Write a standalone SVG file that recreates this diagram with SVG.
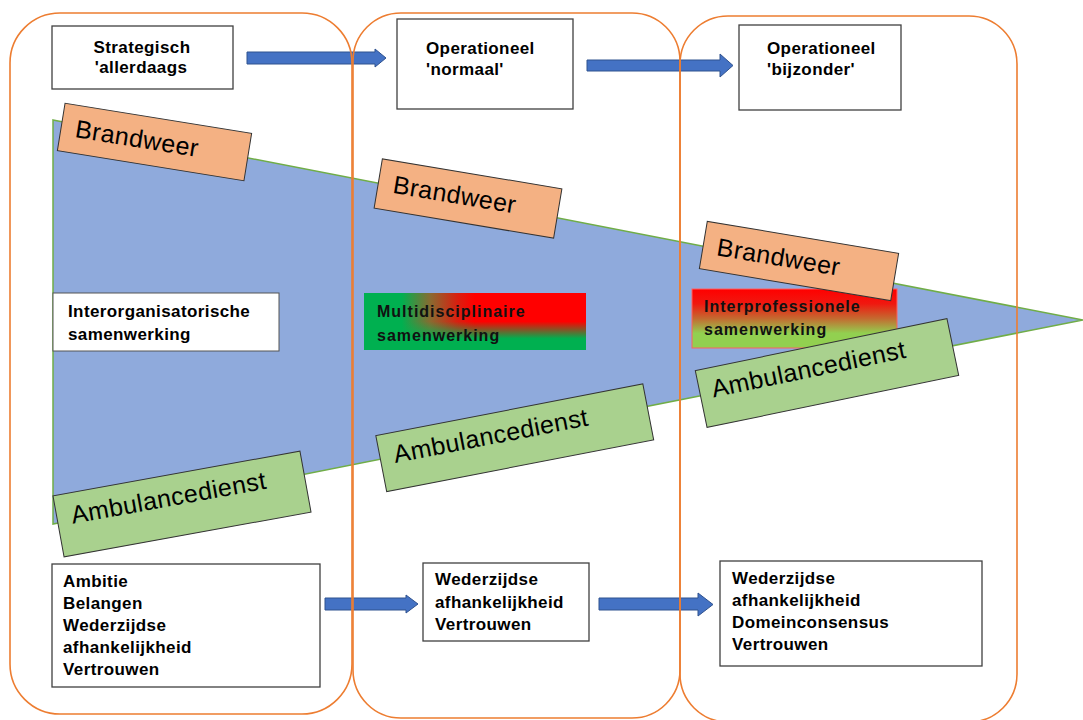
<svg xmlns="http://www.w3.org/2000/svg" width="1083" height="720" viewBox="0 0 1083 720">
<style>
.frame{fill:none;stroke:#ED7D31;stroke-width:1.6}
.box{fill:#fff;stroke:#404040;stroke-width:1.3}
.b{font-family:"Liberation Sans",Arial,sans-serif;font-weight:bold;font-size:17px;fill:#000;letter-spacing:0.4px}
.b2{font-family:"Liberation Sans",Arial,sans-serif;font-weight:bold;font-size:16px;fill:#111;letter-spacing:1px}
.lbl{font-family:"Liberation Sans",Arial,sans-serif;font-size:25px;fill:#000;letter-spacing:0.4px}
.bw{fill:#F4B183;stroke:#333;stroke-width:1}
.am{fill:#A9D18E;stroke:#333;stroke-width:1}
.arrow{fill:#4472C4;stroke:#2F528F;stroke-width:1}
</style>
<defs>
<linearGradient id="gH" x1="0" y1="0" x2="1" y2="0">
<stop offset="0" stop-color="#00B050"/>
<stop offset="0.17" stop-color="#00B050"/>
<stop offset="0.3" stop-color="#8A6A30"/>
<stop offset="0.42" stop-color="#D82010"/>
<stop offset="0.5" stop-color="#FF0000"/>
<stop offset="1" stop-color="#FF0000"/>
</linearGradient>
<linearGradient id="gV" x1="0" y1="0" x2="0" y2="1">
<stop offset="0" stop-color="#00B050" stop-opacity="0"/>
<stop offset="0.5" stop-color="#00B050" stop-opacity="0"/>
<stop offset="0.8" stop-color="#00B050" stop-opacity="1"/>
<stop offset="1" stop-color="#00B050" stop-opacity="1"/>
</linearGradient>
<linearGradient id="gI" x1="0" y1="0" x2="0" y2="1">
<stop offset="0" stop-color="#FF0000"/>
<stop offset="0.25" stop-color="#F01810"/>
<stop offset="0.5" stop-color="#C46A30"/>
<stop offset="0.75" stop-color="#92D050"/>
<stop offset="1" stop-color="#92D050"/>
</linearGradient>
</defs>

<g id="funnel">
<polygon points="53,120 1083,320 53,524" fill="#8FAADC" stroke="#70AD47" stroke-width="1.5"/>
</g>

<g id="strategisch">
<rect class="box" x="52" y="26" width="181" height="63"/>
<text class="b" x="142" y="53" text-anchor="middle">Strategisch</text>
<text class="b" x="141" y="73" text-anchor="middle">'allerdaags</text>
</g>
<g id="operationeel-normaal">
<rect class="box" x="397" y="19" width="176" height="90"/>
<text class="b" x="426" y="54">Operationeel</text>
<text class="b" x="426" y="75">'normaal'</text>
</g>
<g id="operationeel-bijzonder">
<rect class="box" x="739" y="25" width="162" height="85"/>
<text class="b" x="767" y="54">Operationeel</text>
<text class="b" x="767" y="75">'bijzonder'</text>
</g>

<g id="interorganisatorisch">
<rect fill="#fff" stroke="#555" stroke-width="1" x="53" y="293" width="226" height="58"/>
<text class="b" x="68" y="317">Interorganisatorische</text>
<text class="b" x="68" y="340">samenwerking</text>
</g>
<g id="multidisciplinair">
<rect fill="url(#gH)" x="364" y="293" width="222" height="57"/>
<rect fill="url(#gV)" x="364" y="293" width="222" height="57"/>
<text class="b2" x="377" y="317">Multidisciplinaire</text>
<text class="b2" x="377" y="341">samenwerking</text>
</g>
<g id="interprofessioneel">
<rect fill="url(#gI)" stroke="#FF6060" stroke-width="1" x="692" y="289" width="205" height="59"/>
<text class="b2" x="704" y="312">Interprofessionele</text>
<text class="b2" x="704" y="335">samenwerking</text>
</g>

<g id="brandweer-1" transform="translate(154.5,142) rotate(9.2)">
<rect class="bw" x="-94.5" y="-24" width="189" height="48"/>
<text class="lbl" x="-80" y="8">Brandweer</text>
</g>
<g id="brandweer-2" transform="translate(468,198.5) rotate(9.5)">
<rect class="bw" x="-91" y="-25" width="182" height="50"/>
<text class="lbl" x="-76" y="7">Brandweer</text>
</g>
<g id="brandweer-3" transform="translate(799,261) rotate(9.5)">
<rect class="bw" x="-97" y="-24" width="194" height="48"/>
<text class="lbl" x="-83" y="8">Brandweer</text>
</g>

<g id="ambulance-1" transform="translate(182,504) rotate(-10.3)">
<rect class="am" x="-125.5" y="-31" width="251" height="62"/>
<text class="lbl" x="-111" y="0">Ambulancedienst</text>
</g>
<g id="ambulance-2" transform="translate(514.75,437.75) rotate(-11)">
<rect class="am" x="-136" y="-28.5" width="272" height="57"/>
<text class="lbl" x="-122" y="2">Ambulancedienst</text>
</g>
<g id="ambulance-3" transform="translate(827,373) rotate(-11.7)">
<rect class="am" x="-128.5" y="-29" width="257" height="58"/>
<text class="lbl" x="-116" y="1">Ambulancedienst</text>
</g>

<g id="voorwaarden-1">
<rect class="box" x="52" y="564" width="268" height="123"/>
<text class="b" x="63" y="587">Ambitie</text>
<text class="b" x="63" y="609">Belangen</text>
<text class="b" x="63" y="631">Wederzijdse</text>
<text class="b" x="63" y="653">afhankelijkheid</text>
<text class="b" x="63" y="675">Vertrouwen</text>
</g>
<g id="voorwaarden-2">
<rect class="box" x="423" y="563" width="166" height="78"/>
<text class="b" x="435" y="585">Wederzijdse</text>
<text class="b" x="435" y="608">afhankelijkheid</text>
<text class="b" x="435" y="630">Vertrouwen</text>
</g>
<g id="voorwaarden-3">
<rect class="box" x="720" y="561" width="262" height="105"/>
<text class="b" x="732" y="584">Wederzijdse</text>
<text class="b" x="732" y="606">afhankelijkheid</text>
<text class="b" x="732" y="628">Domeinconsensus</text>
<text class="b" x="732" y="650">Vertrouwen</text>
</g>

<g id="connectors">
<polygon class="arrow" points="247,52 375,52 375,49 386,58 375,67 375,64 247,64"/>
<polygon class="arrow" points="587,60 720,60 720,54 733,65.5 720,77 720,71 587,71"/>
<polygon class="arrow" points="325,598 406,598 406,595 418,604 406,613 406,610 325,610"/>
<polygon class="arrow" points="599,598 698,598 698,593 713,604.5 698,616 698,610 599,610"/>
</g>

<g id="phases">
<rect class="frame" x="10" y="13" width="342" height="701" rx="50" ry="50"/>
<rect class="frame" x="353" y="13" width="327" height="705" rx="48" ry="48"/>
<rect class="frame" x="680" y="16" width="337" height="706" rx="48" ry="48"/>
</g>
</svg>
